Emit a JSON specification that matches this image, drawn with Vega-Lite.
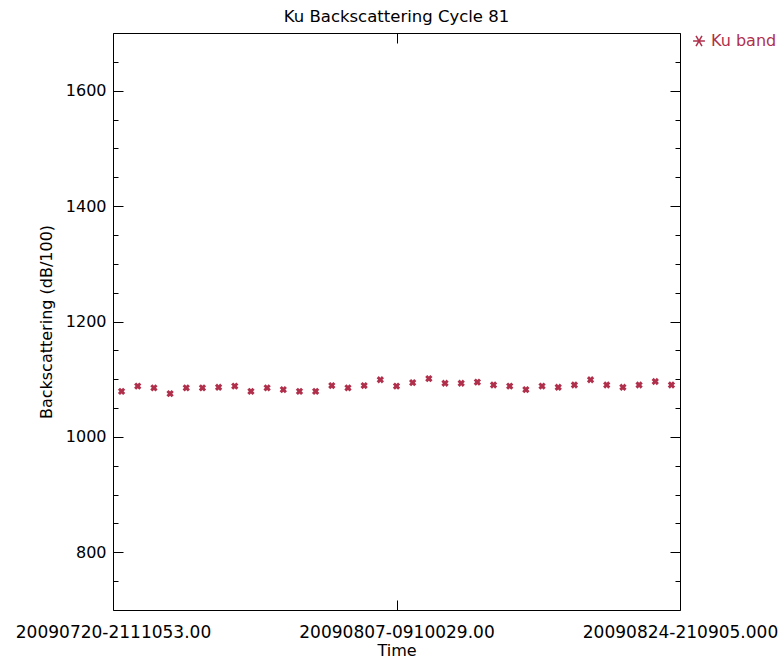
{
  "$schema": "https://vega.github.io/schema/vega-lite/v6.json",
  "autosize": {"type": "none"},
  "padding": {"left": 113, "top": 33, "right": 102, "bottom": 50},
  "width": 567,
  "height": 577,
  "background": "white",
  "config": {
    "view": {"stroke": "#000", "strokeWidth": 1},
    "font": "DejaVu Sans",
    "axis": {"labelFont": "DejaVu Sans", "titleFont": "DejaVu Sans", "labelColor": "#000", "titleColor": "#000", "tickColor": "#000", "domainColor": "#000", "titleFontWeight": "normal", "grid": false},
    "title": {"font": "DejaVu Sans", "fontSize": 16.5, "fontWeight": "normal", "color": "#000"}
  },
  "title": {"text": "Ku Backscattering Cycle 81", "offset": 7},
  "data": {"values": [
    {"i": 0, "v": 1079, "s": "Ku band"},
    {"i": 1, "v": 1088, "s": "Ku band"},
    {"i": 2, "v": 1085, "s": "Ku band"},
    {"i": 3, "v": 1075, "s": "Ku band"},
    {"i": 4, "v": 1085, "s": "Ku band"},
    {"i": 5, "v": 1085, "s": "Ku band"},
    {"i": 6, "v": 1086, "s": "Ku band"},
    {"i": 7, "v": 1088, "s": "Ku band"},
    {"i": 8, "v": 1079, "s": "Ku band"},
    {"i": 9, "v": 1085, "s": "Ku band"},
    {"i": 10, "v": 1082, "s": "Ku band"},
    {"i": 11, "v": 1079, "s": "Ku band"},
    {"i": 12, "v": 1079, "s": "Ku band"},
    {"i": 13, "v": 1089, "s": "Ku band"},
    {"i": 14, "v": 1085, "s": "Ku band"},
    {"i": 15, "v": 1089, "s": "Ku band"},
    {"i": 16, "v": 1099, "s": "Ku band"},
    {"i": 17, "v": 1088, "s": "Ku band"},
    {"i": 18, "v": 1094, "s": "Ku band"},
    {"i": 19, "v": 1101, "s": "Ku band"},
    {"i": 20, "v": 1093, "s": "Ku band"},
    {"i": 21, "v": 1093, "s": "Ku band"},
    {"i": 22, "v": 1095, "s": "Ku band"},
    {"i": 23, "v": 1090, "s": "Ku band"},
    {"i": 24, "v": 1088, "s": "Ku band"},
    {"i": 25, "v": 1082, "s": "Ku band"},
    {"i": 26, "v": 1088, "s": "Ku band"},
    {"i": 27, "v": 1086, "s": "Ku band"},
    {"i": 28, "v": 1090, "s": "Ku band"},
    {"i": 29, "v": 1099, "s": "Ku band"},
    {"i": 30, "v": 1090, "s": "Ku band"},
    {"i": 31, "v": 1086, "s": "Ku band"},
    {"i": 32, "v": 1090, "s": "Ku band"},
    {"i": 33, "v": 1096, "s": "Ku band"},
    {"i": 34, "v": 1090, "s": "Ku band"}
  ]},
  "resolve": {"axis": {"x": "independent", "y": "independent"}},
  "layer": [
    {
      "mark": {"type": "point", "shape": "cross", "angle": 45, "filled": true, "size": 55, "opacity": 1},
      "encoding": {
        "x": {"field": "i", "type": "quantitative",
          "scale": {"domain": [-0.53, 34.53], "nice": false, "zero": false},
          "axis": {"orient": "bottom", "values": [-0.53, 17, 34.53], "domain": false,
            "labelExpr": "datum.value < 0 ? '20090720-2111053.00' : (datum.value > 30 ? '20090824-210905.000' : '20090807-0910029.00')",
            "labelAlign": "center", "labelFontSize": 17, "labelPadding": 24, "tickSize": -10, "labelLimit": 400, "labelOverlap": false,
            "title": "Time", "titleFontSize": 16, "titlePadding": 2}},
        "y": {"field": "v", "type": "quantitative",
          "scale": {"domain": [700, 1700], "nice": false, "zero": false},
          "axis": {"orient": "left", "values": [750, 800, 850, 900, 950, 1000, 1050, 1100, 1150, 1200, 1250, 1300, 1350, 1400, 1450, 1500, 1550, 1600, 1650, 1700],
            "domain": false,
            "labelExpr": "datum.value % 200 === 0 ? datum.value : ''",
            "tickSize": {"condition": {"test": "datum.value % 200 === 0", "value": -10}, "value": -5},
            "labelPadding": 17, "labelFontSize": 16,
            "title": "Backscattering (dB/100)", "titleFontSize": 16, "titlePadding": 11}},
        "color": {"field": "s", "type": "nominal",
          "scale": {"range": ["#b0304c"]},
          "legend": {"orient": "none", "legendX": 578, "legendY": 0, "title": null,
            "symbolType": "M-1,0L1,0M-0.5,-0.87L0.5,0.87M-0.5,0.87L0.5,-0.87", "symbolStrokeWidth": 1.5,
            "symbolSize": 140, "symbolFillColor": "#b0304c", "symbolStrokeColor": "#b0304c",
            "labelColor": "#b0304c", "labelFontSize": 16, "labelFont": "DejaVu Sans", "labelOffset": 4, "labelLimit": 200}}
      }
    },
    {
      "mark": {"type": "point", "opacity": 0},
      "encoding": {
        "x": {"field": "i", "type": "quantitative",
          "scale": {"domain": [-0.53, 34.53], "nice": false, "zero": false},
          "axis": {"orient": "top", "values": [17], "domain": false, "labels": false, "tickSize": -10, "title": null}},
        "y": {"field": "v", "type": "quantitative",
          "scale": {"domain": [700, 1700], "nice": false, "zero": false},
          "axis": {"orient": "right", "values": [750, 800, 850, 900, 950, 1000, 1050, 1100, 1150, 1200, 1250, 1300, 1350, 1400, 1450, 1500, 1550, 1600, 1650, 1700],
            "domain": false, "labels": false, "title": null,
            "tickSize": {"condition": {"test": "datum.value % 200 === 0", "value": -10}, "value": -5}}}
      }
    }
  ]
}
